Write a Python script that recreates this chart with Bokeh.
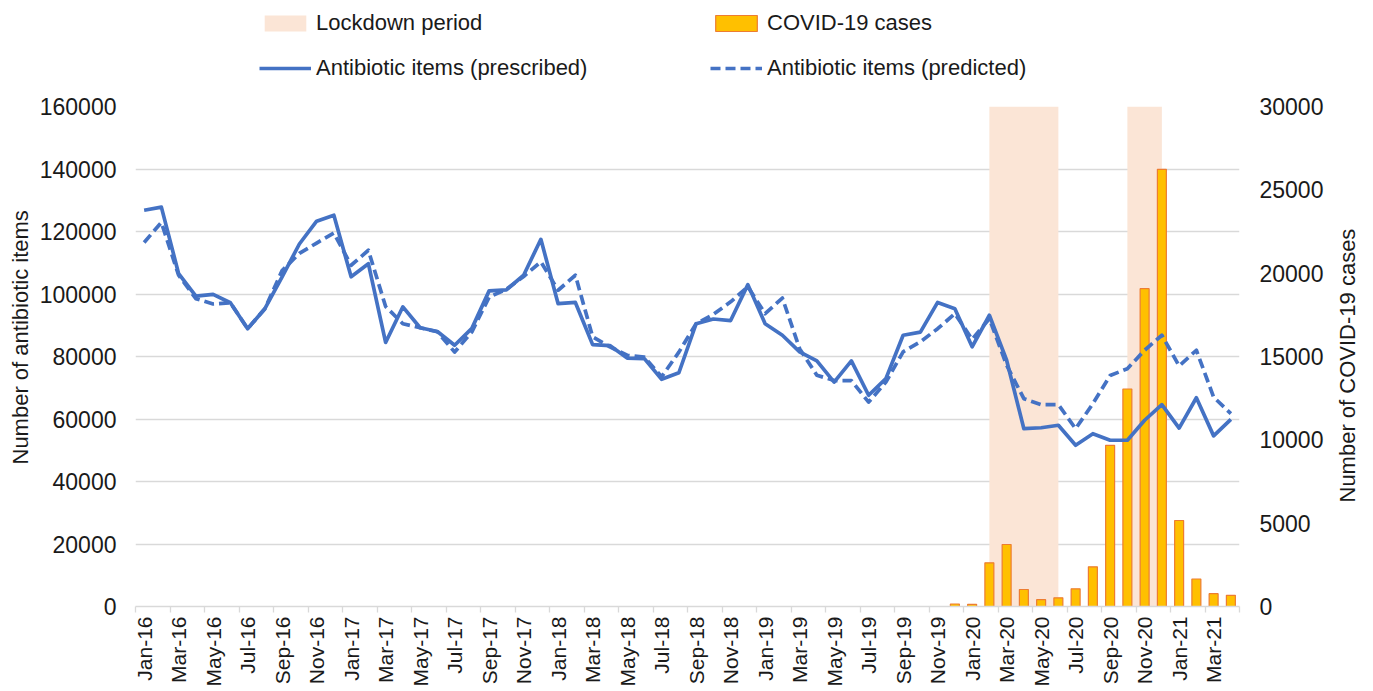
import math
from bokeh.plotting import figure
from bokeh.layouts import column, row
from bokeh.models import (Range1d, LinearAxis, FixedTicker, Legend, LegendItem,
                          ColumnDataSource, NumeralTickFormatter, Title)
from bokeh.embed import file_html
from bokeh.resources import INLINE

months = ["Jan-16", "Feb-16", "Mar-16", "Apr-16", "May-16", "Jun-16", "Jul-16", "Aug-16",
          "Sep-16", "Oct-16", "Nov-16", "Dec-16",
          "Jan-17", "Feb-17", "Mar-17", "Apr-17", "May-17", "Jun-17", "Jul-17", "Aug-17",
          "Sep-17", "Oct-17", "Nov-17", "Dec-17",
          "Jan-18", "Feb-18", "Mar-18", "Apr-18", "May-18", "Jun-18", "Jul-18", "Aug-18",
          "Sep-18", "Oct-18", "Nov-18", "Dec-18",
          "Jan-19", "Feb-19", "Mar-19", "Apr-19", "May-19", "Jun-19", "Jul-19", "Aug-19",
          "Sep-19", "Oct-19", "Nov-19", "Dec-19",
          "Jan-20", "Feb-20", "Mar-20", "Apr-20", "May-20", "Jun-20", "Jul-20", "Aug-20",
          "Sep-20", "Oct-20", "Nov-20", "Dec-20",
          "Jan-21", "Feb-21", "Mar-21", "Apr-21"]

prescribed = [126800, 127800, 106500, 99300, 99900, 97200, 88900, 95300,
              105500, 116000, 123300, 125200,
              105500, 109700, 84500, 95900, 89200, 88000, 83600, 89000,
              101000, 101300, 106000, 117500,
              96900, 97300, 83800, 83500, 79500, 79300, 72700, 74800,
              90500, 92000, 91500, 103000,
              90500, 86800, 81500, 78600, 71800, 78600, 67600, 72900,
              86800, 87800, 97300, 95300,
              83100, 93200, 78800, 56900, 57200, 58000, 51600, 55300,
              53200, 53200, 59600, 64600,
              57100, 66800, 54600, 59900]

predicted = [116500, 122900, 106000, 98500, 96800, 97200, 88900, 95300,
             107500, 113000, 116300, 119500,
             109200, 114000, 96000, 90500, 89200, 87900, 81400, 87900,
             99000, 101500, 105600, 110300,
             101200, 106000, 86300, 83100, 80400, 79800, 73500, 81400,
             90500, 93500, 97500, 102300,
             93700, 98700, 82500, 74000, 72300, 72300, 65400, 71800,
             81500, 84700, 88900, 93700,
             85500, 92100, 77200, 66500, 64600, 64600, 56900, 64900,
             73900, 76100, 82000, 86800,
             77000, 82000, 67000, 61700]

covid_cases = [0] * 47 + [150, 130, 2620, 3720, 1020, 410, 520, 1060, 2380,
                          9670, 13050, 19070, 26230, 5160, 1650, 770, 670]

lockdown_from = ["Feb-20", "Oct-20"]
lockdown_to = ["Jun-20", "Dec-20"]

left_ticks = [0, 20000, 40000, 60000, 80000, 100000, 120000, 140000, 160000]
right_ticks = [0, 5000, 10000, 15000, 20000, 25000, 30000]

BLUE = "#4472C4"
SHADE = "#FBE5D6"
BAR_FILL = "#FFC000"
BAR_LINE = "#ED7D31"
TEXT = "#1a1a1a"
GRID = "#D9D9D9"
FONT = "Liberation Sans"
FS = "22px"
FS_Y = "23px"
FS_X = "21px"

xs = list(range(len(months)))

# ---------------- main chart ----------------
p = figure(frame_width=1104, frame_height=500, output_backend="svg",
           toolbar_location=None, x_range=Range1d(-0.5, len(months) - 0.5),
           y_range=Range1d(left_ticks[0], left_ticks[-1]), min_border_left=135,
           min_border_top=16, min_border_right=92, min_border_bottom=5)
p.outline_line_color = None
p.extra_y_ranges = {"cases": Range1d(right_ticks[0], right_ticks[-1])}

sh = ColumnDataSource(dict(left=[months.index(m) for m in lockdown_from],
                           right=[months.index(m) for m in lockdown_to],
                           bottom=[0, 0], top=[left_ticks[-1]] * 2))
p.quad(left="left", right="right", bottom="bottom", top="top", source=sh,
       fill_color=SHADE, line_color=None)

bx = [x for x, c in zip(xs, covid_cases) if c > 0]
bc = [c for c in covid_cases if c > 0]
p.vbar(x=bx, top=bc, width=0.52, bottom=0, y_range_name="cases",
       fill_color=BAR_FILL, line_color=BAR_LINE, line_width=1.2)

p.line(xs, predicted, line_color=BLUE, line_width=3.7, line_dash="10 5", line_join="round")
p.line(xs, prescribed, line_color=BLUE, line_width=3.7, line_join="round")

ya = p.yaxis[0]
ya.ticker = FixedTicker(ticks=left_ticks)
ya.formatter = NumeralTickFormatter(format="0")
ya.axis_line_color = None
ya.major_tick_line_color = None
ya.minor_tick_line_color = None
ya.major_tick_out = 0
ya.major_label_standoff = 19
ya.axis_label_standoff = 0

ra = LinearAxis(y_range_name="cases", ticker=FixedTicker(ticks=right_ticks),
                formatter=NumeralTickFormatter(format="0"))
ra.axis_line_color = None
ra.major_tick_line_color = None
ra.minor_tick_line_color = None
ra.major_tick_out = 0
ra.major_label_standoff = 20
p.add_layout(ra, "right")

xa = p.xaxis[0]
xa.ticker = FixedTicker(ticks=xs[::2], minor_ticks=[x - 0.5 for x in range(0, len(months) + 1, 2)])
xa.major_label_overrides = {x: months[x] for x in xs[::2]}
xa.major_label_orientation = math.pi / 2
xa.major_tick_line_color = None
xa.major_tick_out = 0
xa.major_tick_in = 0
xa.minor_tick_line_color = GRID
xa.minor_tick_out = 6
xa.minor_tick_in = 0
xa.minor_tick_line_width = 1.3
xa.axis_line_color = GRID
xa.axis_line_width = 1.3
xa.major_label_standoff = 4

for ax in [ya, ra, xa]:
    ax.major_label_text_font = FONT
    ax.major_label_text_font_size = FS
    ax.major_label_text_color = TEXT
ya.major_label_text_font_size = FS_Y
ra.major_label_text_font_size = FS_Y
xa.major_label_text_font_size = FS_X

left_title = Title(text="Number of antibiotic items", align="left", offset=142,
                   standoff=8, text_font=FONT, text_font_size=FS,
                   text_font_style="normal", text_color=TEXT)
p.add_layout(left_title, "left")

p.xgrid.grid_line_color = None
p.ygrid.ticker = FixedTicker(ticks=left_ticks)
p.ygrid.grid_line_color = GRID
p.ygrid.grid_line_width = 1.3

# ---------------- right-hand axis title strip ----------------
tf = figure(width=34, height=420, output_backend="svg", toolbar_location=None,
            x_range=Range1d(0, 1), y_range=Range1d(0, 1), min_border=0)
tf.frame_align = False
tf.outline_line_color = None
tf.axis.visible = False
tf.grid.grid_line_color = None
right_title = Title(text="Number of COVID-19 cases", align="left", offset=8,
                    standoff=2, text_font=FONT, text_font_size=FS,
                    text_font_style="normal", text_color=TEXT)
tf.add_layout(right_title, "left")

# ---------------- legend strip ----------------
lg = figure(width=1362, height=90, output_backend="svg", toolbar_location=None,
            x_range=Range1d(0, 1), y_range=Range1d(0, 1), min_border=0)
lg.frame_align = False
lg.outline_line_color = None
lg.axis.visible = False
lg.grid.grid_line_color = None
# off-range samples so the legend can draw each swatch
r_shade = lg.quad(left=[-3], right=[-2], bottom=[-3], top=[-2], fill_color=SHADE, line_color=None)
r_bar = lg.vbar(x=[-3], top=[-2], bottom=[-3], width=0.5, fill_color=BAR_FILL,
                line_color=BAR_LINE, line_width=1.2)
r_pres = lg.line(x=[-3, -2], y=[-3, -3], line_color=BLUE, line_width=3.7)
r_pred = lg.line(x=[-3, -2], y=[-3, -3], line_color=BLUE, line_width=3.7, line_dash="10 5")

legend = Legend(items=[
    LegendItem(label="Lockdown period", renderers=[r_shade]),
    LegendItem(label="COVID-19 cases", renderers=[r_bar]),
    LegendItem(label="Antibiotic items (prescribed)", renderers=[r_pres]),
    LegendItem(label="Antibiotic items (predicted)", renderers=[r_pred]),
], orientation="horizontal", ncols=2, location=(259, 9))
legend.glyph_width = 52
legend.glyph_height = 20
legend.label_height = 22
legend.label_width = 375
legend.label_standoff = 5
legend.spacing = 19
legend.padding = 0
legend.margin = 0
legend.border_line_color = None
legend.background_fill_alpha = 0
legend.label_text_font = FONT
legend.label_text_font_size = FS
legend.label_text_color = TEXT
lg.add_layout(legend, "center")

open("out.html", "w").write(file_html(column(lg, row(p, tf)), INLINE))
